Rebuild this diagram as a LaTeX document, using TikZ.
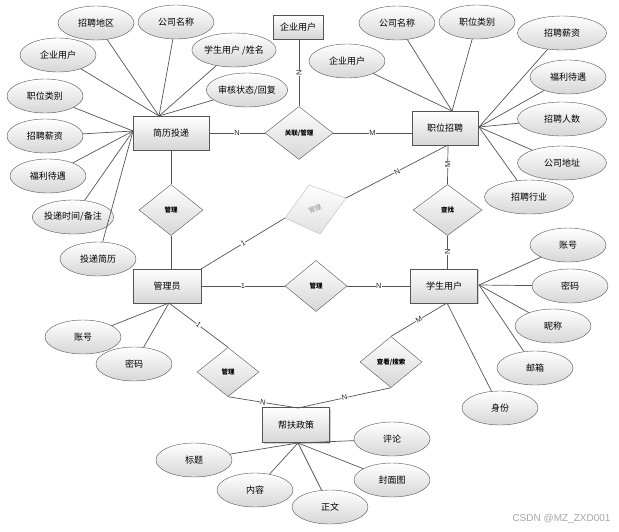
\documentclass[tikz,border=0pt]{standalone}
\usepackage{fontspec}
\newfontfamily\cjk{Noto Sans CJK SC}
\newfontfamily\lab{Liberation Sans}
\usetikzlibrary{shapes.geometric,shadows}
\definecolor{ln}{HTML}{555555}
\definecolor{fb}{HTML}{D6D6D6}
\tikzset{
  ent/.style={draw=ln, rectangle, top color=white, bottom color=fb, minimum width=67pt, minimum height=34pt, inner sep=0pt,
    font=\cjk\fontsize{9}{10}\selectfont, drop shadow={shadow xshift=1.2pt, shadow yshift=-1.2pt, opacity=0.35}},
  attr/.style={draw=ln, ellipse, top color=white, bottom color=fb, minimum width=76pt, minimum height=34pt, inner sep=0pt,
    font=\cjk\fontsize{9}{10}\selectfont},
  wattr/.style={attr, minimum width=89pt},
  rel/.style={draw=ln, diamond, top color=white, bottom color=fb, minimum width=62pt, minimum height=50pt, inner sep=0pt,
    font=\cjk\bfseries\fontsize{6.5}{7}\selectfont},
  conn/.style={draw=ln, line width=0.7pt},
  card/.style={font=\lab\fontsize{7.5}{8}\selectfont, fill=white, inner sep=0.4pt, text=black!85},
}
\begin{document}
\begin{tikzpicture}[x=1pt,y=-1pt]
\useasboundingbox (0,0) rectangle (619,531);
\fill[white] (0,0) rectangle (619,531);

% entities
\node[ent, minimum width=50pt, minimum height=24pt] (qy) at (298,27) {企业用户};
\node[ent, minimum width=76pt] (jl) at (171,133) {简历投递};
\node[ent, minimum width=66pt] (zw) at (445,128) {职位招聘};
\node[ent, minimum width=68pt] (gly) at (167,286) {管理员};
\node[ent] (xs) at (444,286) {学生用户};
\node[ent, minimum height=35pt] (bf) at (296,425) {帮扶政策};

% relations
\node[rel, minimum width=68pt, minimum height=53pt] (r1) at (299,133) {关联/管理};
\node[rel, minimum width=64pt, minimum height=51pt] (r2) at (171,210) {管理};
\node[rel, minimum width=69pt, minimum height=51pt] (r3) at (447.5,210) {查找};
\node[rel, minimum height=51pt] (r4) at (316,286) {管理};
\node[rel, minimum height=49pt] (r5) at (228,372) {管理};
\node[rel, minimum height=51pt] (r6) at (391,362) {查看/搜索};

% light gray rotated relation
\coordinate (gt) at (309,185);
\coordinate (gr) at (346,198);
\coordinate (gb) at (320,234);
\coordinate (gl) at (285,218);
\path[draw=black!25, top color=white, bottom color=black!12] (gt) -- (gr) -- (gb) -- (gl) -- cycle;
\node[font=\cjk\fontsize{6.5}{7}\selectfont, text=black!45, rotate=25] (gtxt) at (315,209) {管理};

% hubs
\coordinate (hJT) at (159,116);
\coordinate (hJL) at (133,131);
\coordinate (hZT) at (452,111);
\coordinate (hZR) at (479,127);
\coordinate (hZB) at (448,145);
\coordinate (hXR) at (479,285);
\coordinate (hXB) at (447,303);
\coordinate (hG) at (169,303);
\coordinate (hGT) at (201,269);
\coordinate (hBB) at (298,443);
\coordinate (hBT) at (298,408);

% relation connectors
\draw[conn] (jl.east) -- node[card] {N} (r1.west);
\draw[conn] (r1.east) -- node[card] {M} (r1.east -| zw.west);
\draw[conn] (r1.north) -- node[card, rotate=90] {N} (r1.north |- qy.south);
\draw[conn] (jl.south -| r2.north) -- (r2.north);
\draw[conn] (r2.south) -- (r2.south |- gly.north);
\draw[conn] (hZB) -- node[card, rotate=90] {M} (r3.north);
\draw[conn] (r3.south) -- node[card, rotate=90] {N} (r3.south |- xs.north);
\draw[conn] (gly.east) -- node[card] {1} (r4.west);
\draw[conn] (r4.east) -- node[card] {N} (xs.west);
\draw[conn] (hG) -- node[card, sloped] {1} (r5.north);
\draw[conn] (r5.south) -- node[card, sloped] {N} (hBT);
\draw[conn] (hXB) -- node[card, sloped] {M} (r6.north);
\draw[conn] (r6.south) -- node[card, sloped] {N} (hBT);
\draw[conn] (hGT) -- node[card, sloped] {1} (gl);
\draw[conn] (gr) -- node[card, sloped] {N} (hZB);

% attributes of 简历投递
\node[attr] (a1) at (96,23) {招聘地区};
\node[attr] (a2) at (176,22) {公司名称};
\node[attr] (a3) at (234,50) {学生用户 /姓名};
\node[attr] (a4) at (247,90) {审核状态/回复};
\node[attr] (a5) at (58,55) {企业用户};
\node[attr] (a6) at (45,96) {职位类别};
\node[attr] (a7) at (45,136) {招聘薪资};
\node[attr] (a8) at (48,176) {福利待遇};
\node[attr] (a9) at (73,217) {投递时间/备注};
\node[attr] (a10) at (98,259) {投递简历};
\foreach \n in {a1,a2,a3,a4,a5} \draw[conn] (\n) -- (hJT);
\foreach \n in {a6,a7,a8,a9,a10} \draw[conn] (\n) -- (hJL);

% attributes of 职位招聘
\node[attr] (b1) at (397,23) {公司名称};
\node[attr] (b2) at (477,22) {职位类别};
\node[wattr] (b3) at (562,33) {招聘薪资};
\node[attr] (b4) at (568,77) {福利待遇};
\node[wattr] (b5) at (562,119) {招聘人数};
\node[wattr] (b6) at (562,163) {公司地址};
\node[wattr] (b7) at (529,197) {招聘行业};
\node[attr] (b8) at (347,61) {企业用户};
\foreach \n in {b1,b2,b8} \draw[conn] (\n) -- (hZT);
\foreach \n in {b3,b4,b5,b6,b7} \draw[conn] (\n) -- (hZR);

% attributes of 学生用户
\node[attr] (c1) at (568,245) {账号};
\node[attr] (c2) at (570,286) {密码};
\node[attr] (c3) at (553,326) {昵称};
\node[attr] (c4) at (535,368) {邮箱};
\node[attr] (c5) at (500,408) {身份};
\foreach \n in {c1,c2,c3,c4} \draw[conn] (\n) -- (hXR);
\draw[conn] (c5) -- (hXB);

% attributes of 管理员
\node[attr] (d1) at (83,337) {账号};
\node[attr] (d2) at (134,364) {密码};
\draw[conn] (d1) -- (hG);
\draw[conn] (d2) -- (hG);

% attributes of 帮扶政策
\node[attr] (e1) at (194,460) {标题};
\node[attr] (e2) at (255,490) {内容};
\node[attr] (e3) at (330,507) {正文};
\node[attr] (e4) at (392,439) {评论};
\node[attr] (e5) at (392,480) {封面图};
\foreach \n in {e1,e2,e3,e4,e5} \draw[conn] (\n) -- (hBB);

% watermark
\node[font=\lab\fontsize{10}{11}\selectfont, text=black!35, anchor=east] (wm) at (614,519) {CSDN @MZ\_ZXD001};
\end{tikzpicture}
\end{document}
